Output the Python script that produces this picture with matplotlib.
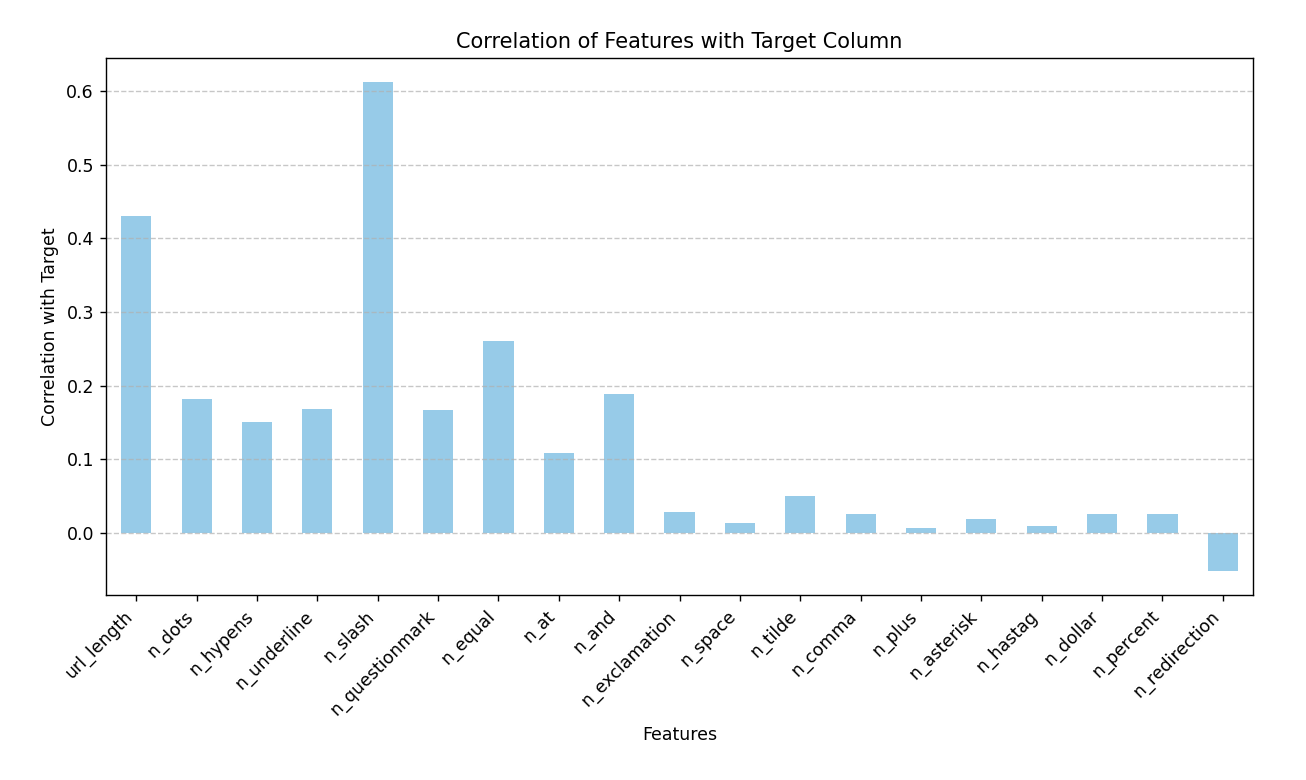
import matplotlib
matplotlib.use('Agg')
import matplotlib.pyplot as plt
import pandas as pd

features = ['url_length', 'n_dots', 'n_hypens', 'n_underline', 'n_slash',
            'n_questionmark', 'n_equal', 'n_at', 'n_and', 'n_exclamation',
            'n_space', 'n_tilde', 'n_comma', 'n_plus', 'n_asterisk',
            'n_hastag', 'n_dollar', 'n_percent', 'n_redirection']
correlations = [0.4307, 0.1816, 0.1504, 0.1685, 0.6114,
                0.1667, 0.2604, 0.1087, 0.1893, 0.0290,
                0.0145, 0.0498, 0.0263, 0.0064, 0.0190,
                0.0104, 0.0258, 0.0258, -0.0507]

corr = pd.Series(correlations, index=features)

plt.figure(figsize=(1306 / 125, 780 / 125), dpi=125)
corr.plot(kind='bar', color='#97cbe8')
plt.title('Correlation of Features with Target Column')
plt.xlabel('Features')
plt.ylabel('Correlation with Target')
plt.xticks(rotation=45, ha='right')
plt.grid(axis='y', linestyle='--', alpha=0.7)
plt.subplots_adjust(left=0.0812, right=0.9594, top=0.9256, bottom=0.2372)
plt.savefig('out.png', dpi=125)
